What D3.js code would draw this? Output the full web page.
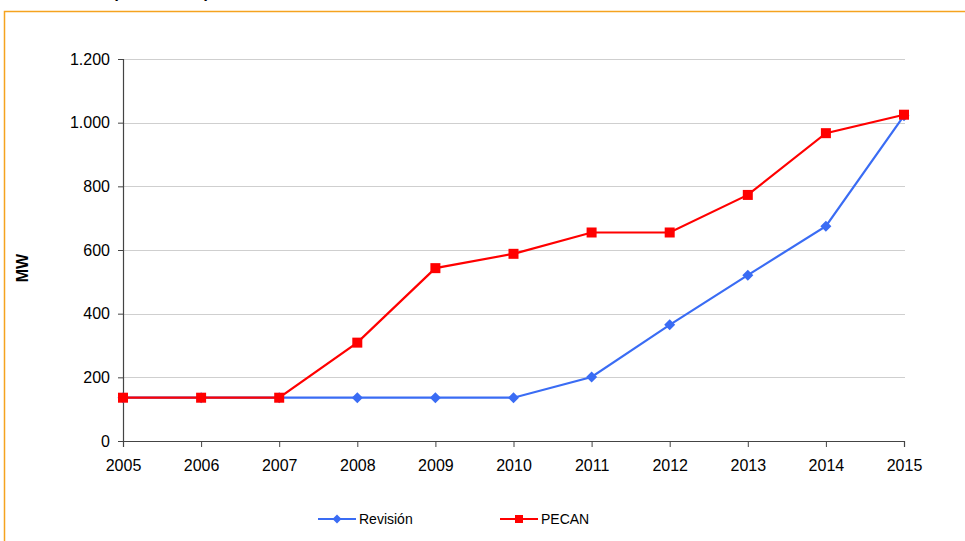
<!DOCTYPE html>
<head>
	<meta charset="utf-8" />
	<style>
		body {
			margin: 0;
			background-color: #fff;
			overflow: hidden;
		}
		text {
			font-family: 'Liberation Sans', Arial, sans-serif;
			fill: #000;
		}
	</style>
</head>
<body>
	<div id="chart-area"></div>
	<script src="https://cdnjs.cloudflare.com/ajax/libs/d3/7.8.5/d3.min.js"></script>
	<script>
		const years = [2005, 2006, 2007, 2008, 2009, 2010, 2011, 2012, 2013, 2014, 2015];
		const revision = [136, 136, 136, 136, 136, 136, 201, 365, 521, 675, 1022];
		const pecan = [136, 136, 136, 309, 543, 588, 655, 655, 773, 967, 1025];
		const yTicks = [0, 200, 400, 600, 800, 1000, 1200];
		const seriesNames = ['Revisión', 'PECAN'];
		const title = 'Gráfico 4. Comparativa de potencia eólica instalada: Revisión - PECAN';

		const W = 965, H = 541;
		const margins = { top: 59, left: 123, right: 61, bottom: 100 };
		const width = W - margins.left - margins.right;
		const height = H - margins.top - margins.bottom;

		const svg = d3.select('#chart-area').append('svg')
			.attr('width', W)
			.attr('height', H);

		// title sits above the visible area, only its descenders peek in
		svg.append('text')
			.attr('x', 2)
			.attr('y', -2)
			.style('font-size', '16px')
			.style('font-weight', 'bold')
			.style('font-style', 'italic')
			.text(title);

		// orange frame
		svg.append('rect')
			.attr('x', 4.5)
			.attr('y', 11.5)
			.attr('width', W + 10)
			.attr('height', H + 10)
			.attr('fill', 'none')
			.attr('stroke', '#f5a31f')
			.attr('stroke-width', 1.5);

		const x = d3.scaleLinear().domain([2005, 2015]).range([0, width]);
		const y = d3.scaleLinear().domain([0, 1200]).range([height, 0]);

		const g = svg.append('g')
			.attr('transform', `translate(${margins.left},${margins.top})`);

		// gridlines
		g.selectAll('.grid')
			.data(yTicks.filter(d => d > 0))
			.join('line')
			.attr('class', 'grid')
			.attr('x1', 0)
			.attr('x2', width + 1)
			.attr('y1', d => Math.round(y(d)) + 0.5)
			.attr('y2', d => Math.round(y(d)) + 0.5)
			.attr('stroke', '#cfcfcf')
			.attr('stroke-width', 1);

		const fmt = d => d3.format(',')(d).replace(/,/g, '.');

		const yAxis = g.append('g')
			.call(d3.axisLeft(y).tickValues(yTicks).tickFormat(fmt).tickSize(5).tickPadding(8));
		const xAxis = g.append('g')
			.attr('transform', `translate(0,${height})`)
			.call(d3.axisBottom(x).tickValues(years).tickFormat(d3.format('d')).tickSize(6).tickPadding(13));

		[yAxis, xAxis].forEach(a => {
			a.select('.domain').attr('stroke', '#444').attr('stroke-width', 1.2);
			a.selectAll('.tick line').attr('stroke', '#444');
			a.selectAll('text')
				.style('font-size', '16px')
				.style('font-family', "'Liberation Sans', Arial, sans-serif")
				.attr('fill', '#000');
		});

		svg.append('text')
			.attr('transform', `translate(28,268) rotate(-90)`)
			.attr('text-anchor', 'middle')
			.style('font-size', '16px')
			.style('font-weight', 'bold')
			.text('MW');

		const line = d3.line()
			.x((d, i) => x(years[i]))
			.y(d => y(d));

		const blue = '#3a6cf4';
		const red = '#ff0000';
		const diamondPath = r => `M0,${-r}L${r},0L0,${r}L${-r},0Z`;

		// Revisión
		g.append('path')
			.datum(revision)
			.attr('fill', 'none')
			.attr('stroke', blue)
			.attr('stroke-width', 2.2)
			.attr('d', line);
		g.selectAll('.rev')
			.data(revision)
			.join('path')
			.attr('class', 'rev')
			.attr('d', diamondPath(5.5))
			.attr('transform', (d, i) => `translate(${x(years[i])},${y(d)})`)
			.attr('fill', blue);

		// PECAN
		g.append('path')
			.datum(pecan)
			.attr('fill', 'none')
			.attr('stroke', red)
			.attr('stroke-width', 2.2)
			.attr('d', line);
		g.selectAll('.pec')
			.data(pecan)
			.join('rect')
			.attr('class', 'pec')
			.attr('x', (d, i) => x(years[i]) - 5)
			.attr('y', d => y(d) - 5)
			.attr('width', 10)
			.attr('height', 10)
			.attr('fill', red);

		// legend
		const legend = svg.append('g').attr('transform', 'translate(0,519)');
		const items = [
			{ name: seriesNames[0], color: blue, x: 318, marker: 'diamond' },
			{ name: seriesNames[1], color: red, x: 500, marker: 'square' },
		];
		items.forEach(it => {
			legend.append('line')
				.attr('x1', it.x).attr('x2', it.x + 38)
				.attr('y1', 0).attr('y2', 0)
				.attr('stroke', it.color)
				.attr('stroke-width', 2.2);
			if (it.marker === 'diamond') {
				legend.append('path')
					.attr('d', diamondPath(4.5))
					.attr('transform', `translate(${it.x + 19},0)`)
					.attr('fill', it.color);
			} else {
				legend.append('rect')
					.attr('x', it.x + 15).attr('y', -4)
					.attr('width', 8).attr('height', 8)
					.attr('fill', it.color);
			}
			legend.append('text')
				.attr('x', it.x + 41)
				.attr('y', 5)
				.style('font-size', '14px')
				.text(it.name);
		});
	</script>
</body>
